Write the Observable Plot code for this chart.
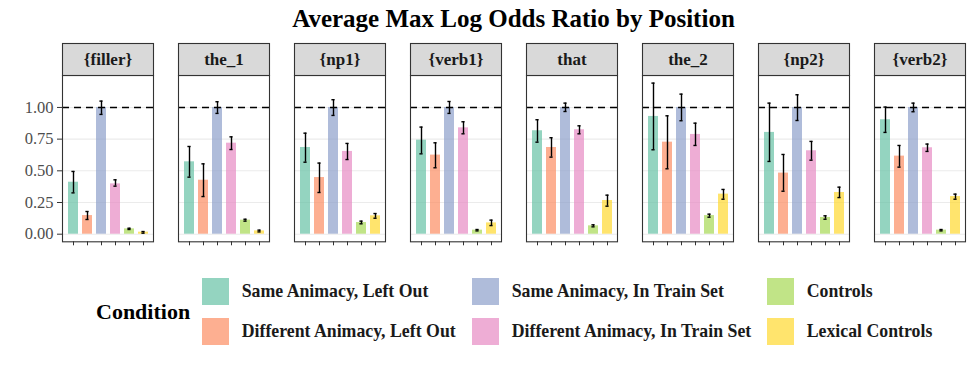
<!DOCTYPE html>
<html>
<head>
<meta charset="utf-8">
<script src="https://cdn.jsdelivr.net/npm/d3@7"></script>
<script src="https://cdn.jsdelivr.net/npm/@observablehq/plot@0.6"></script>
<style>
  html, body { margin: 0; padding: 0; background: #fff; }
  body { width: 977px; height: 366px; position: relative; overflow: hidden; font-family: "Liberation Serif", serif; }
  #title { position: relative; height: 38px; }
  #title span { position: absolute; left: 60px; width: 907px; text-align: center; top: 0; line-height: 38px; font-weight: bold; font-size: 25px; color: #000; }
  #chart svg { display: block; }
  #legend { position: relative; height: 103px; }
  #legend .lt { position: absolute; font-weight: bold; font-size: 22px; color: #000; }
  #legend .key { position: absolute; width: 27px; height: 27px; }
  #legend .lab { position: absolute; font-weight: bold; font-size: 17.8px; color: #1a1a1a; white-space: nowrap; }
</style>
</head>
<body>
<div id="title"><span>Average Max Log Odds Ratio by Position</span></div>
<div id="chart"></div>
<div id="legend"></div>
<script>
const positions = ["{filler}", "the_1", "{np1}", "{verb1}", "that", "the_2", "{np2}", "{verb2}"];
const conditions = [
  "Same Animacy, Left Out",
  "Different Animacy, Left Out",
  "Same Animacy, In Train Set",
  "Different Animacy, In Train Set",
  "Controls",
  "Lexical Controls"
];
const colors = ["#66c2a5", "#fc8d62", "#8da0cb", "#e78ac3", "#a6d854", "#ffd92f"];
// rows: condition, columns: position
const means = [
  [0.410, 0.571, 0.684, 0.742, 0.816, 0.929, 0.803, 0.903],
  [0.147, 0.426, 0.447, 0.624, 0.684, 0.726, 0.482, 0.616],
  [1.000, 1.000, 1.000, 1.000, 1.000, 1.000, 1.000, 1.000],
  [0.397, 0.718, 0.653, 0.839, 0.824, 0.787, 0.658, 0.682],
  [0.042, 0.111, 0.092, 0.032, 0.066, 0.147, 0.132, 0.032],
  [0.016, 0.026, 0.145, 0.089, 0.266, 0.316, 0.329, 0.297]
];
const lower = [
  [0.326, 0.450, 0.568, 0.634, 0.726, 0.666, 0.574, 0.803],
  [0.116, 0.297, 0.329, 0.524, 0.608, 0.516, 0.339, 0.529],
  [0.945, 0.953, 0.937, 0.953, 0.968, 0.895, 0.897, 0.966],
  [0.379, 0.668, 0.589, 0.792, 0.792, 0.700, 0.584, 0.653],
  [0.037, 0.103, 0.082, 0.026, 0.058, 0.134, 0.118, 0.026],
  [0.008, 0.018, 0.126, 0.068, 0.221, 0.276, 0.289, 0.276]
];
const upper = [
  [0.495, 0.692, 0.797, 0.845, 0.903, 1.192, 1.034, 1.003],
  [0.179, 0.555, 0.561, 0.721, 0.761, 0.934, 0.629, 0.700],
  [1.050, 1.045, 1.061, 1.047, 1.034, 1.105, 1.100, 1.034],
  [0.429, 0.768, 0.716, 0.887, 0.855, 0.876, 0.732, 0.711],
  [0.047, 0.118, 0.103, 0.037, 0.074, 0.158, 0.145, 0.037],
  [0.021, 0.032, 0.163, 0.111, 0.308, 0.353, 0.371, 0.316]
];
const yTicks = [0, 0.25, 0.5, 0.75, 1];
const reference = 1;

const data = [];
conditions.forEach((c, i) => positions.forEach((p, j) => {
  data.push({condition: c, position: p, value: means[i][j], lo: lower[i][j], hi: upper[i][j]});
}));

const W = 977, H = 225, mTop = 37, mBottom = 21.7, mLeft = 60, mRight = 10.3;
const frameH = H - mTop - mBottom;
const serif = "'Liberation Serif', serif";
const fmt = d3.format(".2f");

const plot = Plot.plot({
  width: W, height: H,
  marginTop: mTop, marginBottom: mBottom, marginLeft: mLeft, marginRight: mRight,
  style: {fontFamily: serif, background: "#fff"},
  fx: {domain: positions, paddingInner: 0.2135, paddingOuter: 0, axis: null, label: null},
  x: {domain: conditions, paddingInner: 0.3, paddingOuter: 0.207, axis: null, label: null},
  y: {domain: [-0.06, 1.252], axis: null, label: null},
  color: {domain: conditions, range: colors},
  marks: [
    Plot.gridY(yTicks, {stroke: "#ebebeb", strokeOpacity: 1, strokeWidth: 1.1}),
    Plot.barY(data, {fx: "position", x: "condition", y: "value", fill: "condition", fillOpacity: 0.7}),
    Plot.ruleY([reference], {stroke: "#000", strokeWidth: 1.5, strokeDasharray: "7,5"}),
    Plot.ruleX(data, {fx: "position", x: "condition", y1: "lo", y2: "hi", stroke: "#000", strokeWidth: 1.4}),
    Plot.tickY(data, {fx: "position", x: "condition", y: "lo", stroke: "#000", strokeWidth: 1.4, insetLeft: 3.4, insetRight: 3.4}),
    Plot.tickY(data, {fx: "position", x: "condition", y: "hi", stroke: "#000", strokeWidth: 1.4, insetLeft: 3.4, insetRight: 3.4}),
    Plot.frame({stroke: "#333", strokeWidth: 1.1}),
    Plot.frame({fill: "#d9d9d9", stroke: "#333", strokeWidth: 1.1, insetTop: -32, insetBottom: frameH}),
    Plot.text(positions, {fx: d => d, text: d => d, frameAnchor: "top", dy: -16, fontWeight: "bold", fontSize: 17, fill: "#1a1a1a", lineAnchor: "middle"}),
    Plot.axisY(yTicks, {anchor: "left", tickFormat: () => "", tickSize: 5, stroke: "#333", label: null}),
    Plot.text(yTicks, {fx: () => positions[0], y: d => d, text: d => fmt(d), frameAnchor: "left", textAnchor: "end", dx: -9, fontSize: 16.5, fill: "#4d4d4d"}),
    Plot.axisX({anchor: "bottom", tickSize: 4, tickFormat: () => "", stroke: "#333", label: null})
  ]
});
document.getElementById("chart").appendChild(plot);

// legend
const leg = document.getElementById("legend");
const lt = document.createElement("div");
lt.className = "lt"; lt.textContent = "Condition";
lt.style.left = "96px"; lt.style.top = (311.7 - 263 - 13) + "px";
leg.appendChild(lt);
const colX = [201.7, 471.7, 766.7];
const rowY = [278.3, 317.7];
conditions.forEach((c, i) => {
  const col = Math.floor(i / 2), row = i % 2;
  const k = document.createElement("div");
  k.className = "key";
  k.style.left = colX[col] + "px";
  k.style.top = (rowY[row] - 263) + "px";
  k.style.background = colors[i];
  k.style.opacity = 0.7;
  leg.appendChild(k);
  const l = document.createElement("div");
  l.className = "lab"; l.textContent = c;
  l.style.left = (colX[col] + 40) + "px";
  l.style.top = (rowY[row] - 263 + 3) + "px";
  l.style.lineHeight = "21px";
  leg.appendChild(l);
});
</script>
</body>
</html>
